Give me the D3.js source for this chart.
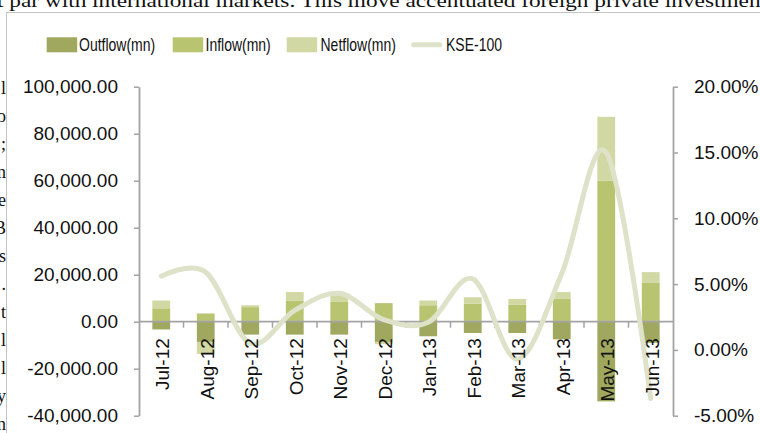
<!DOCTYPE html>
<html>
<head>
<meta charset="utf-8">
<script src="https://cdn.jsdelivr.net/npm/d3@7"></script>
<style>
  html, body { margin: 0; padding: 0; background: #fff; overflow: hidden; }
  svg { display: block; }
</style>
</head>
<body>
<svg id="chart" width="760" height="433"></svg>
<script>
// Monthly foreign portfolio flows (PKR mn) and KSE-100 monthly return
const categories = ["Jul-12", "Aug-12", "Sep-12", "Oct-12", "Nov-12", "Dec-12",
                    "Jan-13", "Feb-13", "Mar-13", "Apr-13", "May-13", "Jun-13"];
const outflow = [-3300, -8600, -5500, -5500, -5500, -8600, -6200, -4800, -4800, -7500, -33900, -9000];
const inflow  = [5700, 3500, 6200, 9000, 8400, 7900, 7000, 7600, 7200, 9700, 60000, 16500];
const netflow = [3300, -5100, 800, 3600, 3400, -1000, 2000, 2800, 2500, 2900, 27200, 4600];
const kse100  = [0.056, 0.059, 0.005, 0.030, 0.043, 0.023, 0.021, 0.054, -0.007, 0.058, 0.150, -0.037];

const leftTicks  = [-40000, -20000, 0, 20000, 40000, 60000, 80000, 100000];
const rightTicks = [-0.05, 0, 0.05, 0.10, 0.15, 0.20];

const seriesNames = ["Outflow(mn)", "Inflow(mn)", "Netflow(mn)"];
const seriesColors = ["#9fa85e", "#b8c470", "#d1d8a3"];
const lineName = "KSE-100";
const lineColor = "#dde2c9";

// Surrounding page text (paragraph edges around the embedded chart)
const headerText = "t par with international markets. This move accentuated foreign private investment";
const edgeLetters = ["l", "o", ";", "n", "e", "B", "s", ".", "t", "l", "l", "y", "n"];

const svg = d3.select("#chart");
const axisFont = "'Liberation Sans', Arial, sans-serif";
const axisGrey = "#a3a3a3";

// page text behind the chart frame
svg.append("text")
  .attr("x", -3).attr("y", 6.5)
  .attr("textLength", 770).attr("lengthAdjust", "spacingAndGlyphs")
  .style("font-family", "'Liberation Serif', 'DejaVu Serif', serif")
  .style("font-size", "19px").attr("fill", "#111")
  .text(headerText);

svg.append("g").selectAll("text").data(edgeLetters).join("text")
  .attr("x", 6).attr("y", (d, i) => 94 + 28 * i)
  .attr("text-anchor", "end")
  .style("font-family", "'Liberation Serif', 'DejaVu Serif', serif")
  .style("font-size", "18px").attr("fill", "#111")
  .text(d => d);

// chart frame
svg.append("rect")
  .attr("x", 6.5).attr("y", 12.5).attr("width", 800).attr("height", 500)
  .attr("fill", "#fff").attr("stroke", "#c4c4c4").attr("stroke-width", 1);

// scales
const plotLeft = 139, plotRight = 673, plotTop = 86.7, plotBottom = 415.7;
const x = d3.scaleBand().domain(categories).range([plotLeft, plotRight])
  .paddingInner(0.6).paddingOuter(0.3);
const yL = d3.scaleLinear().domain([-40000, 100000]).range([plotBottom, plotTop]);
const yR = d3.scaleLinear().domain([-0.05, 0.20]).range([plotBottom, plotTop]);

// stacked columns: positives stack upward, negatives downward
const rows = categories.map((c, i) => ({
  cat: c, "Outflow(mn)": outflow[i], "Inflow(mn)": inflow[i], "Netflow(mn)": netflow[i]
}));
const stacked = d3.stack().keys(seriesNames).offset(d3.stackOffsetDiverging)(rows);

svg.append("g").selectAll("g").data(stacked).join("g")
  .attr("fill", (d, i) => seriesColors[i])
  .selectAll("rect").data(d => d).join("rect")
  .attr("x", d => x(d.data.cat))
  .attr("width", x.bandwidth())
  .attr("y", d => yL(Math.max(d[0], d[1])))
  .attr("height", d => Math.abs(yL(d[0]) - yL(d[1])));

// axes
const hyphen = s => s.replace("\u2212", "-");
const gLeft = svg.append("g").attr("transform", `translate(${plotLeft},0)`)
  .call(d3.axisLeft(yL).tickValues(leftTicks).tickSize(5).tickPadding(16).tickSizeOuter(0)
    .tickFormat(d => hyphen(d3.format(",.2f")(d))));
const gRight = svg.append("g").attr("transform", `translate(${plotRight},0)`)
  .call(d3.axisRight(yR).tickValues(rightTicks).tickSize(5).tickPadding(16).tickSizeOuter(0)
    .tickFormat(d => hyphen(d3.format(".2%")(d))));
[gLeft, gRight].forEach(g => {
  g.select(".domain").attr("stroke", axisGrey).attr("stroke-width", 1.8);
  g.selectAll(".tick line").attr("stroke", axisGrey).attr("stroke-width", 1.5);
  g.selectAll(".tick text").attr("fill", "#111")
    .style("font-family", axisFont).style("font-size", "19px");
});

// category axis along zero
const y0 = yL(0);
const boundaries = d3.range(1, categories.length).map(i => x(categories[i]) - x.step() * x.paddingInner() / 2);
svg.append("line")
  .attr("x1", plotLeft).attr("x2", plotRight).attr("y1", y0).attr("y2", y0)
  .attr("stroke", axisGrey).attr("stroke-width", 1.8);
svg.append("g").selectAll("line").data(boundaries).join("line")
  .attr("x1", d => d).attr("x2", d => d).attr("y1", y0).attr("y2", y0 + 6)
  .attr("stroke", axisGrey).attr("stroke-width", 1.5);

// KSE-100 smoothed line
const line = d3.line()
  .x((d, i) => x(categories[i]) + x.bandwidth() / 2)
  .y(d => yR(d))
  .curve(d3.curveCardinal.tension(0));
svg.append("path").datum(kse100)
  .attr("d", line).attr("fill", "none")
  .attr("stroke", lineColor).attr("stroke-width", 5)
  .attr("stroke-linecap", "round").attr("stroke-linejoin", "round");

// month labels
svg.append("g").selectAll("text").data(categories).join("text")
  .attr("transform", d => `translate(${x(d) + x.bandwidth() / 2 + 1.5},${y0 + 16.5}) rotate(-90)`)
  .attr("text-anchor", "end").attr("dy", "0.35em")
  .attr("fill", "#111")
  .style("font-family", axisFont).style("font-size", "19px")
  .text(d => d);

// legend (text drawn slightly condensed / tall)
const legendItems = [
  { name: seriesNames[0], color: seriesColors[0], kind: "rect", x: 46.7, tx: 79 },
  { name: seriesNames[1], color: seriesColors[1], kind: "rect", x: 172.7, tx: 205.5 },
  { name: seriesNames[2], color: seriesColors[2], kind: "rect", x: 286.7, tx: 320.5 },
  { name: lineName, color: lineColor, kind: "line", x: 411.7, tx: 446 }
];
const legend = svg.append("g");
legendItems.forEach(it => {
  if (it.kind === "rect") {
    legend.append("rect").attr("x", it.x).attr("y", 37.3).attr("width", 30.5).attr("height", 15)
      .attr("fill", it.color);
  } else {
    legend.append("line").attr("x1", it.x + 2).attr("x2", it.x + 28).attr("y1", 44.8).attr("y2", 44.8)
      .attr("stroke", it.color).attr("stroke-width", 5).attr("stroke-linecap", "round");
  }
  legend.append("text")
    .attr("transform", `translate(${it.tx},45) scale(1,1.3)`)
    .attr("dy", "0.35em")
    .attr("fill", "#111")
    .style("font-family", axisFont).style("font-size", "14px")
    .text(it.name);
});
</script>
</body>
</html>
